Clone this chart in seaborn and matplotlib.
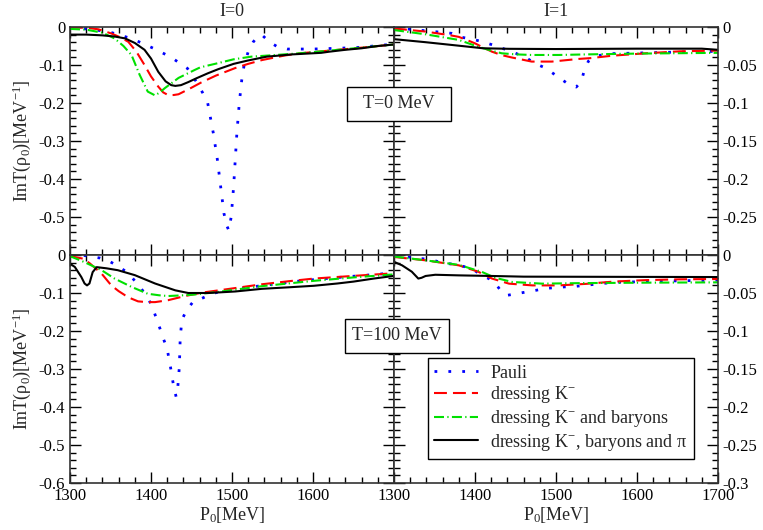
import matplotlib
matplotlib.use("Agg")
import matplotlib.pyplot as plt
from matplotlib.ticker import MultipleLocator, FixedLocator
from matplotlib.patches import Rectangle
import seaborn as sns

# ---- data ----
# I=0, T=0 MeV
x_pauli_00 = [1300, 1320, 1347, 1372, 1382, 1405, 1425, 1445, 1456, 1464, 1470, 1477, 1482, 1486, 1490, 1494,
              1496, 1499, 1502, 1506, 1509, 1512, 1515, 1520, 1526, 1532, 1537, 1546, 1556, 1568, 1600, 1630,
              1655, 1680, 1700]
y_pauli_00 = [-0.002, -0.005, -0.012, -0.028, -0.036, -0.058, -0.080, -0.109, -0.144, -0.174, -0.200, -0.280,
              -0.350, -0.420, -0.490, -0.525, -0.535, -0.500, -0.420, -0.280, -0.200, -0.140, -0.100, -0.065,
              -0.040, -0.024, -0.021, -0.039, -0.052, -0.058, -0.058, -0.056, -0.054, -0.049, -0.045]
x_kaon_00 = [1300, 1320, 1335, 1351, 1362, 1372, 1382, 1392, 1400, 1409, 1415, 1421, 1428, 1434, 1448, 1462,
             1480, 1504, 1520, 1537, 1565, 1585, 1626, 1667, 1700]
y_kaon_00 = [-0.001, -0.002, -0.006, -0.017, -0.027, -0.039, -0.065, -0.100, -0.130, -0.157, -0.172, -0.179,
             -0.179, -0.177, -0.162, -0.146, -0.128, -0.108, -0.097, -0.087, -0.075, -0.069, -0.061, -0.053, -0.046]
x_bary_00 = [1300, 1320, 1340, 1355, 1366, 1376, 1386, 1396, 1405, 1411, 1417, 1434, 1454, 1461, 1483, 1502,
             1524, 1545, 1585, 1626, 1667, 1700]
y_bary_00 = [-0.005, -0.007, -0.015, -0.030, -0.050, -0.074, -0.126, -0.170, -0.180, -0.172, -0.161, -0.134,
             -0.113, -0.106, -0.095, -0.085, -0.078, -0.075, -0.069, -0.061, -0.053, -0.046]
x_pion_00 = [1300, 1320, 1340, 1355, 1368, 1380, 1392, 1400, 1409, 1418, 1425, 1430, 1437, 1446, 1455, 1470,
             1483, 1502, 1520, 1543, 1575, 1610, 1620, 1640, 1660, 1680, 1700]
y_pion_00 = [-0.020, -0.020, -0.022, -0.025, -0.030, -0.042, -0.060, -0.083, -0.118, -0.143, -0.153, -0.155,
             -0.153, -0.145, -0.136, -0.122, -0.111, -0.097, -0.088, -0.078, -0.072, -0.068, -0.065, -0.060,
             -0.056, -0.050, -0.046]

# I=1, T=0 MeV
x_pauli_10 = [1300, 1320, 1349, 1371, 1384, 1396, 1408, 1420, 1431, 1447, 1464, 1474, 1485, 1495, 1505, 1515,
              1525, 1531, 1535, 1540, 1549, 1571, 1612, 1650, 1700]
y_pauli_10 = [-0.001, -0.003, -0.006, -0.0083, -0.0136, -0.016, -0.019, -0.023, -0.027, -0.033, -0.041, -0.048,
              -0.053, -0.060, -0.0675, -0.075, -0.079, -0.072, -0.057, -0.045, -0.038, -0.035, -0.034, -0.033, -0.032]
x_kaon_10 = [1300, 1339, 1370, 1380, 1392, 1400, 1410, 1421, 1433, 1445, 1470, 1495, 1528, 1542, 1570, 1611,
             1653, 1700]
y_kaon_10 = [-0.002, -0.006, -0.011, -0.013, -0.018, -0.0215, -0.027, -0.0325, -0.037, -0.040, -0.0455, -0.0455,
             -0.042, -0.041, -0.0377, -0.0346, -0.032, -0.031]
x_bary_10 = [1300, 1339, 1380, 1404, 1420, 1433, 1450, 1470, 1503, 1540, 1600, 1650, 1700]
y_bary_10 = [-0.004, -0.0096, -0.017, -0.026, -0.031, -0.0346, -0.036, -0.0368, -0.0368, -0.036, -0.035,
             -0.0345, -0.034]
x_pion_10 = [1300, 1339, 1380, 1410, 1442, 1500, 1600, 1680, 1700]
y_pion_10 = [-0.016, -0.020, -0.0246, -0.028, -0.0287, -0.029, -0.0285, -0.0285, -0.030]

# I=0, T=100 MeV
x_pauli_01 = [1300, 1314, 1337, 1349, 1359, 1368, 1376, 1384, 1392, 1399, 1403, 1407, 1411, 1415, 1420, 1422,
              1424, 1426, 1428, 1431, 1433, 1435, 1436, 1438, 1444, 1452, 1463, 1473, 1485, 1502, 1543, 1585,
              1626, 1667, 1700]
y_pauli_01 = [-0.002, 0.0, -0.008, -0.017, -0.029, -0.042, -0.058, -0.078, -0.100, -0.125, -0.145, -0.169,
              -0.193, -0.219, -0.246, -0.272, -0.294, -0.320, -0.346, -0.373, -0.350, -0.294, -0.223, -0.171,
              -0.145, -0.123, -0.114, -0.104, -0.096, -0.090, -0.079, -0.068, -0.060, -0.053, -0.047]
x_kaon_01 = [1300, 1317, 1325, 1339, 1351, 1360, 1368, 1376, 1384, 1395, 1405, 1421, 1442, 1463, 1504, 1537,
             1570, 1601, 1650, 1700]
y_kaon_01 = [-0.003, -0.010, -0.023, -0.049, -0.080, -0.095, -0.106, -0.115, -0.122, -0.124, -0.124, -0.119,
             -0.108, -0.099, -0.087, -0.077, -0.069, -0.062, -0.055, -0.048]
x_bary_01 = [1300, 1317, 1339, 1355, 1376, 1396, 1410, 1421, 1440, 1454, 1487, 1537, 1601, 1650, 1700]
y_bary_01 = [-0.003, -0.018, -0.040, -0.062, -0.084, -0.102, -0.106, -0.108, -0.106, -0.104, -0.096, -0.082,
             -0.068, -0.059, -0.051]
x_pion_01 = [1300, 1306, 1314, 1318, 1321, 1324, 1328, 1333, 1345, 1359, 1380, 1405, 1430, 1446, 1471, 1504,
             1537, 1570, 1601, 1630, 1650, 1675, 1700]
y_pion_01 = [-0.023, -0.0315, -0.058, -0.075, -0.080, -0.075, -0.045, -0.032, -0.035, -0.040, -0.053, -0.075,
             -0.093, -0.100, -0.100, -0.096, -0.089, -0.085, -0.081, -0.075, -0.070, -0.062, -0.055]

# I=1, T=100 MeV
x_pauli_11 = [1300, 1315, 1326, 1336, 1349, 1361, 1374, 1384, 1396, 1408, 1417, 1426, 1433, 1440, 1451, 1463,
              1475, 1487, 1498, 1510, 1522, 1535, 1571, 1612, 1650, 1700]
y_pauli_11 = [-0.001, -0.002, -0.004, -0.005, -0.007, -0.011, -0.012, -0.0146, -0.0176, -0.0268, -0.031,
              -0.0386, -0.0487, -0.053, -0.051, -0.0487, -0.0465, -0.044, -0.043, -0.042, -0.0415, -0.040,
              -0.036, -0.035, -0.034, -0.033]
x_kaon_11 = [1300, 1339, 1380, 1404, 1421, 1442, 1471, 1503, 1537, 1571, 1612, 1653, 1700]
y_kaon_11 = [-0.0026, -0.007, -0.0136, -0.022, -0.031, -0.0377, -0.040, -0.040, -0.038, -0.035, -0.033, -0.032,
             -0.0316]
x_bary_11 = [1300, 1339, 1380, 1408, 1425, 1446, 1483, 1530, 1612, 1700]
y_bary_11 = [-0.002, -0.007, -0.013, -0.022, -0.030, -0.0355, -0.0377, -0.037, -0.0364, -0.036]
x_pion_11 = [1300, 1310, 1322, 1330, 1334, 1339, 1351, 1380, 1421, 1460, 1700]
y_pion_11 = [-0.009, -0.0136, -0.022, -0.031, -0.030, -0.0276, -0.026, -0.0268, -0.0276, -0.0285, -0.029]

labels = ["Pauli", "dressing K$^{-}$", "dressing K$^{-}$ and baryons", "dressing K$^{-}$, baryons and π"]

# ---- style ----
sns.set_style("ticks")
plt.rcParams["font.family"] = ["Liberation Serif", "DejaVu Serif"]
plt.rcParams["mathtext.fontset"] = "custom"
plt.rcParams["mathtext.rm"] = "Liberation Serif"
plt.rcParams["mathtext.it"] = "Liberation Serif:italic"
plt.rcParams["axes.unicode_minus"] = False
plt.rcParams["font.size"] = 12

colors = ["#0000ff", "#ff0000", "#00e000", "#000000"]
styles = [(0, (1, 4.0)), (0, (6.2, 2.9)), (0, (4.8, 1.6, 0.6, 1.6)), "-"]
widths = [2.0, 1.5, 1.5, 1.5]

fig, axes = plt.subplots(2, 2, figsize=(7.63, 5.30), dpi=100)
fig.subplots_adjust(left=70 / 763, right=718 / 763, top=1 - 27 / 530, bottom=1 - 483 / 530, wspace=0, hspace=0)

panels = {
    (0, 0): [(x_pauli_00, y_pauli_00), (x_kaon_00, y_kaon_00), (x_bary_00, y_bary_00), (x_pion_00, y_pion_00)],
    (0, 1): [(x_pauli_10, y_pauli_10), (x_kaon_10, y_kaon_10), (x_bary_10, y_bary_10), (x_pion_10, y_pion_10)],
    (1, 0): [(x_pauli_01, y_pauli_01), (x_kaon_01, y_kaon_01), (x_bary_01, y_bary_01), (x_pion_01, y_pion_01)],
    (1, 1): [(x_pauli_11, y_pauli_11), (x_kaon_11, y_kaon_11), (x_bary_11, y_bary_11), (x_pion_11, y_pion_11)],
}

for (r, c), curves in panels.items():
    ax = axes[r, c]
    for i, (xs, ys) in enumerate(curves):
        sns.lineplot(x=xs, y=ys, ax=ax, color=colors[i], linestyle=styles[i], linewidth=widths[i],
                     estimator=None, sort=False, label=labels[i] if (r, c) == (1, 1) else None)
    ax.set_xlim(1300, 1700)
    ax.xaxis.set_major_locator(MultipleLocator(100))
    ax.xaxis.set_minor_locator(MultipleLocator(20))
    if c == 0:
        ax.set_ylim(-0.6, 0)
        ax.yaxis.set_major_locator(FixedLocator([0, -0.1, -0.2, -0.3, -0.4, -0.5] + ([-0.6] if r == 1 else [])))
        ax.yaxis.set_minor_locator(MultipleLocator(0.02))
        ax.set_ylabel("ImT(ρ$_0$)[MeV$^{-1}$]", fontsize=13, labelpad=4)
    else:
        ax.set_ylim(-0.3, 0)
        ax.yaxis.set_major_locator(FixedLocator([0, -0.05, -0.1, -0.15, -0.2, -0.25] + ([-0.3] if r == 1 else [])))
        ax.yaxis.set_minor_locator(MultipleLocator(0.01))
        ax.set_ylabel("")
    ax.yaxis.set_major_formatter(plt.FuncFormatter(lambda v, p: "0" if abs(v) < 1e-9 else f"{v:g}"))
    ax.tick_params(which="both", direction="in", top=True, right=True, bottom=True, left=True,
                   labelsize=12, width=1, colors="black")
    ax.tick_params(which="major", length=8)
    ax.tick_params(which="minor", length=4.5)
    if c == 1:
        ax.tick_params(labelleft=False, labelright=True)
    if r == 0:
        ax.tick_params(labelbottom=False)
        ax.set_xlabel("")
    else:
        ax.set_xlabel("P$_0$[MeV]", fontsize=13, labelpad=1)
    for s in ax.spines.values():
        s.set_linewidth(1.2)
        s.set_color("#333333")

# left-bottom: keep 1700 tick mark but no label (right panel shows 1300 there)
axes[1, 0].set_xticks([1300, 1400, 1500, 1600, 1700])
axes[1, 0].set_xticklabels(["1300", "1400", "1500", "1600", ""])

axes[0, 0].set_title("I=0", fontsize=13, pad=8)
axes[0, 1].set_title("I=1", fontsize=13, pad=8)

leg = axes[1, 1].legend(loc="lower left", bbox_to_anchor=(0.105, 0.105), borderaxespad=0, fontsize=13,
                        frameon=True, fancybox=False, edgecolor="black", framealpha=1, handlelength=2.4,
                        labelspacing=0.15, borderpad=0.35, handletextpad=0.7)
leg.get_frame().set_linewidth(1.0)
for ax in (axes[0, 0], axes[0, 1], axes[1, 0]):
    if ax.get_legend() is not None:
        ax.get_legend().remove()

# temperature boxes spanning both columns
for (x0, y0, x1, y1, txt) in [(347, 87, 451, 121, "T=0 MeV"), (345, 319, 449, 353, "T=100 MeV")]:
    fig.patches.append(Rectangle((x0 / 763, 1 - y1 / 530), (x1 - x0) / 763, (y1 - y0) / 530,
                                 transform=fig.transFigure, facecolor="white", edgecolor="black",
                                 linewidth=1.0, zorder=10))
    fig.text((x0 + x1) / 2 / 763, 1 - (y0 + y1) / 2 / 530, txt, ha="center", va="center", fontsize=13, zorder=11)

fig.savefig("out.png", dpi=100)
